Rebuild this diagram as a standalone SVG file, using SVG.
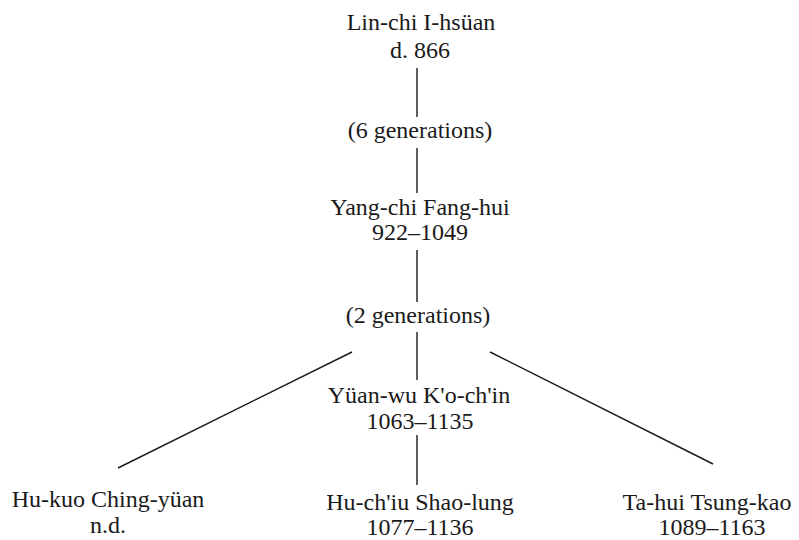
<svg xmlns="http://www.w3.org/2000/svg" width="799" height="540" viewBox="0 0 799 540">
  <style>
    .lbl { font-family: 'Liberation Serif', 'DejaVu Serif', 'Times New Roman', serif; font-size: 24px; fill: #1a1a1a; text-anchor: middle; }
    .edge { stroke: #1a1a1a; stroke-width: 1.4; fill: none; }
  </style>
  <rect width="799" height="540" fill="#ffffff"/>

  <g id="connectors">
    <line class="edge" x1="417" y1="68" x2="417" y2="117"/>
    <line class="edge" x1="417" y1="148" x2="417" y2="193"/>
    <line class="edge" x1="417" y1="250" x2="417" y2="302"/>
    <line class="edge" x1="417" y1="332" x2="417" y2="380"/>
    <line class="edge" x1="417" y1="435" x2="417" y2="485"/>
    <line class="edge" x1="352" y1="352" x2="118" y2="468"/>
    <line class="edge" x1="490" y1="352" x2="713" y2="464"/>
  </g>

  <g id="lin-chi">
    <text class="lbl" x="421" y="30">Lin-chi I-hsüan</text>
    <text class="lbl" x="420" y="58">d. 866</text>
  </g>

  <g id="gap-6">
    <text class="lbl" x="420" y="138">(6 generations)</text>
  </g>

  <g id="yang-chi">
    <text class="lbl" x="420" y="215">Yang-chi Fang-hui</text>
    <text class="lbl" x="420" y="240">922–1049</text>
  </g>

  <g id="gap-2">
    <text class="lbl" x="418" y="323">(2 generations)</text>
  </g>

  <g id="yuan-wu">
    <text class="lbl" x="419" y="403">Yüan-wu K'o-ch'in</text>
    <text class="lbl" x="420" y="429">1063–1135</text>
  </g>

  <g id="hu-kuo">
    <text class="lbl" x="108" y="507">Hu-kuo Ching-yüan</text>
    <text class="lbl" x="108" y="533">n.d.</text>
  </g>

  <g id="hu-chiu">
    <text class="lbl" x="420" y="510">Hu-ch'iu Shao-lung</text>
    <text class="lbl" x="420" y="535">1077–1136</text>
  </g>

  <g id="ta-hui">
    <text class="lbl" x="707" y="510">Ta-hui Tsung-kao</text>
    <text class="lbl" x="712" y="535">1089–1163</text>
  </g>
</svg>
